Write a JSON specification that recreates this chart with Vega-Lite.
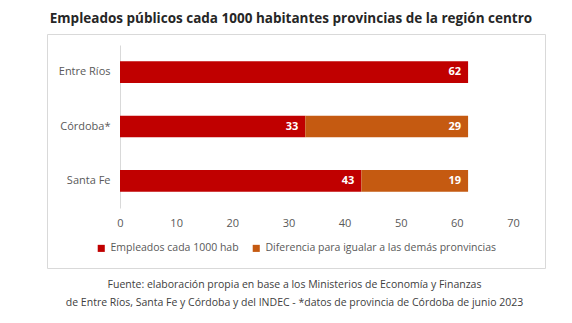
{
  "$schema": "https://vega.github.io/schema/vega-lite/v6.json",
  "width": 498,
  "height": 234,
  "autosize": {"type": "none"},
  "padding": {"left": 47, "top": 34, "right": 27, "bottom": 55},
  "background": "white",
  "title": {
    "text": "Empleados públicos cada 1000 habitantes provincias de la región centro",
    "font": "Open Sans",
    "fontSize": 13.5,
    "fontWeight": "bold",
    "color": "#262626",
    "anchor": "middle",
    "offset": 9,
    "dx": -5
  },
  "data": {
    "values": [
      {"provincia": "Entre Ríos", "serie": "Empleados cada 1000 hab", "orden": 1, "valor": 62},
      {"provincia": "Córdoba*", "serie": "Empleados cada 1000 hab", "orden": 1, "valor": 33},
      {"provincia": "Córdoba*", "serie": "Diferencia para igualar a las demás pronvincias", "orden": 2, "valor": 29},
      {"provincia": "Santa Fe", "serie": "Empleados cada 1000 hab", "orden": 1, "valor": 43},
      {"provincia": "Santa Fe", "serie": "Diferencia para igualar a las demás pronvincias", "orden": 2, "valor": 19}
    ]
  },
  "transform": [
    {"stack": "valor", "groupby": ["provincia"], "sort": [{"field": "orden"}], "as": ["x0", "x1"]}
  ],
  "encoding": {
    "y": {
      "field": "provincia",
      "type": "nominal",
      "sort": ["Entre Ríos", "Córdoba*", "Santa Fe"],
      "scale": {"range": [11, 174], "paddingInner": 0.6, "paddingOuter": 0.3},
      "axis": {
        "title": null,
        "offset": -73,
        "domainColor": "#d9d9d9",
        "ticks": false,
        "grid": false,
        "labelPadding": 10,
        "labelFont": "Open Sans",
        "labelFontSize": 11,
        "labelColor": "#595959"
      }
    }
  },
  "layer": [
    {
      "mark": {"type": "bar"},
      "encoding": {
        "x": {
          "field": "x0",
          "type": "quantitative",
          "scale": {"domain": [0, 70], "range": [73, 466], "nice": false, "zero": true},
          "axis": {
            "title": ["Fuente: elaboración propia en base a los Ministerios de Economía y Finanzas", "de Entre Ríos, Santa Fe y Córdoba y del INDEC - *datos de provincia de Córdoba de junio 2023"],
            "titleX": 247,
            "titleY": 66,
            "titleAlign": "center",
            "titleBaseline": "top",
            "titleFont": "Open Sans",
            "titleFontSize": 10.5,
            "titleFontWeight": "normal",
            "titleColor": "#404040",
            "titleLineHeight": 18,
            "offset": -55,
            "domain": false,
            "ticks": false,
            "grid": false,
            "labelFlush": false,
            "values": [0, 10, 20, 30, 40, 50, 60, 70],
            "labelPadding": 4,
            "labelFont": "Open Sans",
            "labelFontSize": 11,
            "labelColor": "#595959"
          }
        },
        "x2": {"field": "x1"},
        "color": {
          "field": "serie",
          "type": "nominal",
          "sort": ["Empleados cada 1000 hab", "Diferencia para igualar a las demás pronvincias"],
          "scale": {"domain": ["Empleados cada 1000 hab", "Diferencia para igualar a las demás pronvincias"], "range": ["#C00000", "#C55A11"]},
          "legend": {
            "title": null,
            "orient": "none",
            "legendX": 49,
            "legendY": 209,
            "direction": "horizontal",
            "symbolType": "square",
            "symbolSize": 50,
            "symbolStrokeWidth": 0,
            "labelFont": "Open Sans",
            "labelFontSize": 10.5,
            "labelColor": "#595959",
            "labelLimit": 400,
            "labelOffset": 4,
            "columnPadding": 12
          }
        }
      }
    },
    {
      "mark": {"type": "text", "align": "right", "dx": -7, "color": "white", "font": "Open Sans", "fontSize": 11, "fontWeight": "bold"},
      "encoding": {
        "x": {"field": "x1", "type": "quantitative"},
        "text": {"field": "valor", "type": "quantitative"}
      }
    }
  ],
  "config": {
    "view": {"stroke": "#d9d9d9", "strokeWidth": 1}
  }
}
